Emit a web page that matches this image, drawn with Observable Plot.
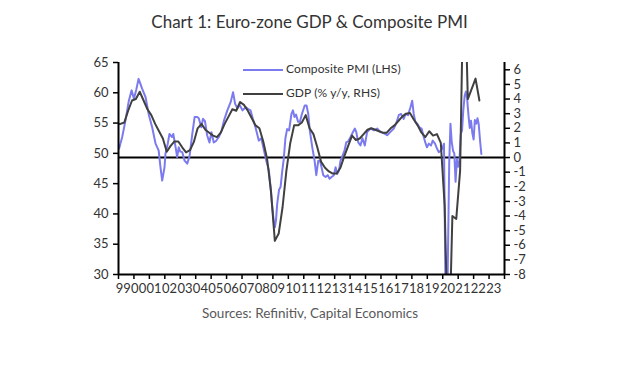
<!DOCTYPE html>
<html>
<head>
<meta charset="utf-8">
<script src="https://cdn.jsdelivr.net/npm/d3@7"></script>
<script src="https://cdn.jsdelivr.net/npm/@observablehq/plot@0.6"></script>
<style>
  html, body { margin: 0; padding: 0; background: #fff; }
  #wrap { position: relative; width: 639px; height: 372px; overflow: hidden; font-family: Lato, sans-serif; }
  #chart { position: absolute; left: 0; top: 0; }
  #title { position: absolute; left: 0; width: 619px; top: 11px; text-align: center; font-size: 17px; color: #333; }
  #source { position: absolute; left: 0; width: 620px; top: 305px; text-align: center; font-size: 13.5px; color: #595959; }
  .leg { position: absolute; left: 243px; font-size: 12px; color: #333; height: 14px; line-height: 14px; white-space: nowrap; letter-spacing: 0.1px; }
  .leg span.sw { display: inline-block; width: 40px; height: 0; border-top: 2px solid; vertical-align: middle; margin-right: 3px; }
</style>
</head>
<body>
<div id="wrap">
  <div id="chart"></div>
  <div id="title">Chart 1: Euro-zone GDP &amp; Composite PMI</div>
  <div class="leg" style="top:62px"><span class="sw" style="border-color:#7b7bef"></span>Composite PMI (LHS)</div>
  <div class="leg" style="top:86px"><span class="sw" style="border-color:#404040"></span>GDP (% y/y, RHS)</div>
  <div id="source">Sources: Refinitiv, Capital Economics</div>
</div>
<script>
// Composite PMI (LHS), decimal year -> index level
const pmiTime = [
  1999.04, 1999.24, 1999.45, 1999.67, 1999.85, 2000.0, 2000.15, 2000.3, 2000.53, 2000.75, 2000.97,
  2001.18, 2001.4, 2001.6, 2001.72, 2001.83, 2001.98, 2002.04, 2002.19, 2002.3, 2002.47, 2002.55,
  2002.7, 2002.8, 2002.9, 2003.0, 2003.13, 2003.28, 2003.45, 2003.6, 2003.78, 2003.93,
  2004.1, 2004.2, 2004.36, 2004.47, 2004.6, 2004.74, 2004.89, 2005.02, 2005.17, 2005.3, 2005.5,
  2005.68, 2005.83, 2006.05, 2006.27, 2006.42, 2006.55, 2006.7, 2006.85, 2007.03, 2007.25, 2007.4,
  2007.55, 2007.7, 2007.87, 2008.09, 2008.25, 2008.42, 2008.57, 2008.74, 2008.85, 2008.96,
  2009.07, 2009.13, 2009.2, 2009.28, 2009.4, 2009.5, 2009.6, 2009.7, 2009.81, 2009.92,
  2010.05, 2010.2, 2010.3, 2010.4, 2010.5, 2010.63, 2010.75, 2010.88, 2011.06, 2011.18, 2011.29,
  2011.39, 2011.55, 2011.7, 2011.81, 2011.94, 2012.05, 2012.15, 2012.26, 2012.41, 2012.55, 2012.67,
  2012.8, 2012.95, 2013.06, 2013.17, 2013.28, 2013.38, 2013.5, 2013.64, 2013.75, 2013.88,
  2014.03, 2014.18, 2014.31, 2014.4, 2014.53, 2014.67, 2014.8, 2014.95, 2015.1, 2015.32, 2015.55,
  2015.75, 2015.97, 2016.2, 2016.4, 2016.6, 2016.83, 2016.98, 2017.15, 2017.3, 2017.47, 2017.6,
  2017.75, 2017.91, 2018.02, 2018.12, 2018.23, 2018.35, 2018.49, 2018.63, 2018.77, 2018.87, 2018.98,
  2019.1, 2019.24, 2019.35, 2019.5, 2019.63, 2019.74, 2019.86, 2019.97, 2020.08, 2020.17, 2020.25,
  2020.33, 2020.42, 2020.5, 2020.58, 2020.67, 2020.75, 2020.83, 2020.92, 2021.0, 2021.08, 2021.17,
  2021.25, 2021.33, 2021.42, 2021.5, 2021.58, 2021.67, 2021.75, 2021.83, 2021.92, 2022.0, 2022.08,
  2022.17, 2022.25, 2022.33, 2022.42, 2022.5
];
const pmiValue = [
  50.8, 52.7, 55.4, 58.7, 60.4, 59.0, 60.5, 62.3, 60.7, 59.3, 56.3,
  54.3, 51.6, 50.5, 47.7, 45.5, 47.7, 49.9, 51.6, 53.2, 52.7, 53.2,
  51.0, 49.4, 51.0, 50.3, 50.2, 48.8, 48.3, 49.5, 53.2, 56.0,
  56.0, 55.8, 54.3, 55.7, 55.3, 53.0, 51.8, 53.5, 51.8, 52.0, 52.7,
  53.8, 55.4, 57.1, 58.5, 60.1, 58.2, 57.4, 58.0, 57.1, 57.6, 57.3,
  57.1, 55.7, 54.3, 52.1, 52.5, 50.5, 48.8, 47.2, 44.4, 41.1,
  38.4, 37.8, 39.0, 41.7, 44.0, 44.5, 47.0, 49.0, 52.5, 54.0,
  53.8, 56.5, 57.1, 56.0, 56.4, 55.2, 55.2, 56.5, 57.9, 57.9, 56.5,
  53.8, 51.0, 48.8, 46.4, 48.8, 48.8, 47.7, 46.4, 46.1, 46.4, 45.8,
  46.1, 46.4, 47.7, 46.6, 47.2, 48.8, 49.5, 50.5, 51.8, 52.0,
  52.7, 53.5, 54.1, 53.5, 51.8, 51.3, 52.5, 51.3, 53.5, 54.1, 53.8,
  54.1, 53.5, 53.3, 53.0, 53.5, 54.1, 54.9, 56.3, 56.5, 55.7, 56.5,
  56.3, 57.6, 58.7, 56.5, 55.2, 54.9, 54.3, 54.1, 52.7, 51.8, 51.0,
  51.6, 51.3, 52.1, 51.6, 50.8, 50.2, 50.4, 50.8, 51.6, 29.7, 13.6,
  31.9, 48.5, 54.9, 51.9, 50.4, 50.0, 45.3, 49.1, 47.8, 48.8, 53.2,
  53.8, 57.1, 59.5, 60.2, 59.0, 56.2, 54.2, 55.4, 53.3, 52.3, 55.5,
  54.9, 55.8, 54.8, 52.0, 49.9
];

// GDP (% y/y, RHS), quarterly
const gdpYear = [1998, 1999, 2000, 2001, 2002, 2003, 2004, 2005, 2006, 2007, 2008, 2009, 2010,
  2011, 2012, 2013, 2014, 2015, 2016, 2017, 2018, 2019, 2020, 2021, 2022];
const gdpByYear = [
  [null, null, null, 2.3],
  [2.3, 2.4, 3.2, 3.9],
  [4.0, 4.5, 3.9, 3.3],
  [2.9, 2.3, 1.8, 1.3],
  [0.4, 0.8, 1.1, 1.1],
  [0.7, 0.35, 0.5, 1.05],
  [2.0, 2.3, 1.9, 1.7],
  [1.5, 1.4, 1.7, 2.3],
  [2.8, 3.3, 3.2, 3.8],
  [3.6, 3.2, 2.7, 2.2],
  [2.0, 1.1, -0.1, -2.3],
  [-5.7, -5.2, -3.4, -0.9],
  [1.0, 2.2, 2.2, 2.4],
  [2.9, 2.0, 1.6, 0.7],
  [-0.3, -0.7, -0.95, -1.1],
  [-1.1, -0.7, 0.1, 0.8],
  [1.5, 1.2, 1.3, 1.6],
  [1.9, 2.0, 1.9, 1.8],
  [1.7, 1.7, 2.0, 2.2],
  [2.5, 2.8, 3.0, 3.05],
  [2.6, 2.2, 1.7, 1.4],
  [1.8, 1.5, 1.6, 1.0],
  [-3.3, -14.5, -4.0, -4.2],
  [-0.9, 14.2, 4.0, 4.7],
  [5.4, 3.9, null, null]
];

const leftTicks = [30, 35, 40, 45, 50, 55, 60, 65];
const rightTicks = [-8, -7, -6, -5, -4, -3, -2, -1, 0, 1, 2, 3, 4, 5, 6];
const yearLabels = ["99", "00", "01", "02", "03", "04", "05", "06", "07", "08", "09", "10", "11",
  "12", "13", "14", "15", "16", "17", "18", "19", "20", "21", "22", "23"];

const leftDomain = [30, 65];
const rightDomain = [-8, 6.5];
const toLeft = g => leftDomain[0] + (g - rightDomain[0]) * (leftDomain[1] - leftDomain[0]) / (rightDomain[1] - rightDomain[0]);
const fromLeft = v => rightDomain[0] + (v - leftDomain[0]) * (rightDomain[1] - rightDomain[0]) / (leftDomain[1] - leftDomain[0]);

const pmi = pmiTime.map((t, i) => ({t, v: pmiValue[i]}));
const gdp = [];
gdpYear.forEach((y, i) => gdpByYear[i].forEach((g, q) => {
  if (g != null) gdp.push({t: y + q * 0.25 + 0.125, v: toLeft(g)});
}));

const yearTicks = d3.range(1999, 2025);
const yearMids = d3.range(1999, 2024).map(y => y + 0.5);

const chart = Plot.plot({
  width: 639,
  height: 372,
  marginLeft: 118,
  marginRight: 135,
  marginTop: 62,
  marginBottom: 98,
  style: {fontFamily: "Lato, sans-serif", fontSize: "13px", color: "#333", background: "transparent"},
  x: {domain: [1999, 2024]},
  y: {domain: leftDomain},
  marks: [
    Plot.ruleY([toLeft(0)], {stroke: "#000", strokeWidth: 2}),
    Plot.line(pmi, {x: "t", y: "v", stroke: "#7b7bef", strokeWidth: 2, clip: true}),
    Plot.line(gdp, {x: "t", y: "v", stroke: "#404040", strokeWidth: 2, clip: true}),
    Plot.axisY({ticks: leftTicks, anchor: "left", tickSize: 5, tickPadding: 5, label: null, stroke: "#000", strokeWidth: 1.5, tickFormat: d => String(d)}),
    Plot.axisY({ticks: rightTicks.map(toLeft), anchor: "right", tickSize: 5, tickPadding: 4, label: null, stroke: "#000", strokeWidth: 1.5, tickFormat: v => String(Math.round(fromLeft(v)))}),
    Plot.axisX({ticks: yearTicks, anchor: "bottom", tickSize: 5, label: null, stroke: "#000", strokeWidth: 1.5, tickFormat: () => ""}),
    Plot.axisX({ticks: yearMids, anchor: "bottom", tickSize: 0, tickPadding: 9, dx: -3, label: null, tickFormat: d => yearLabels[Math.floor(d) - 1999]}),
    Plot.ruleX([1999, 2024], {stroke: "#000", strokeWidth: 2}),
    Plot.ruleY([leftDomain[0]], {stroke: "#000", strokeWidth: 2})
  ]
});
document.getElementById("chart").appendChild(chart);
</script>
</body>
</html>
